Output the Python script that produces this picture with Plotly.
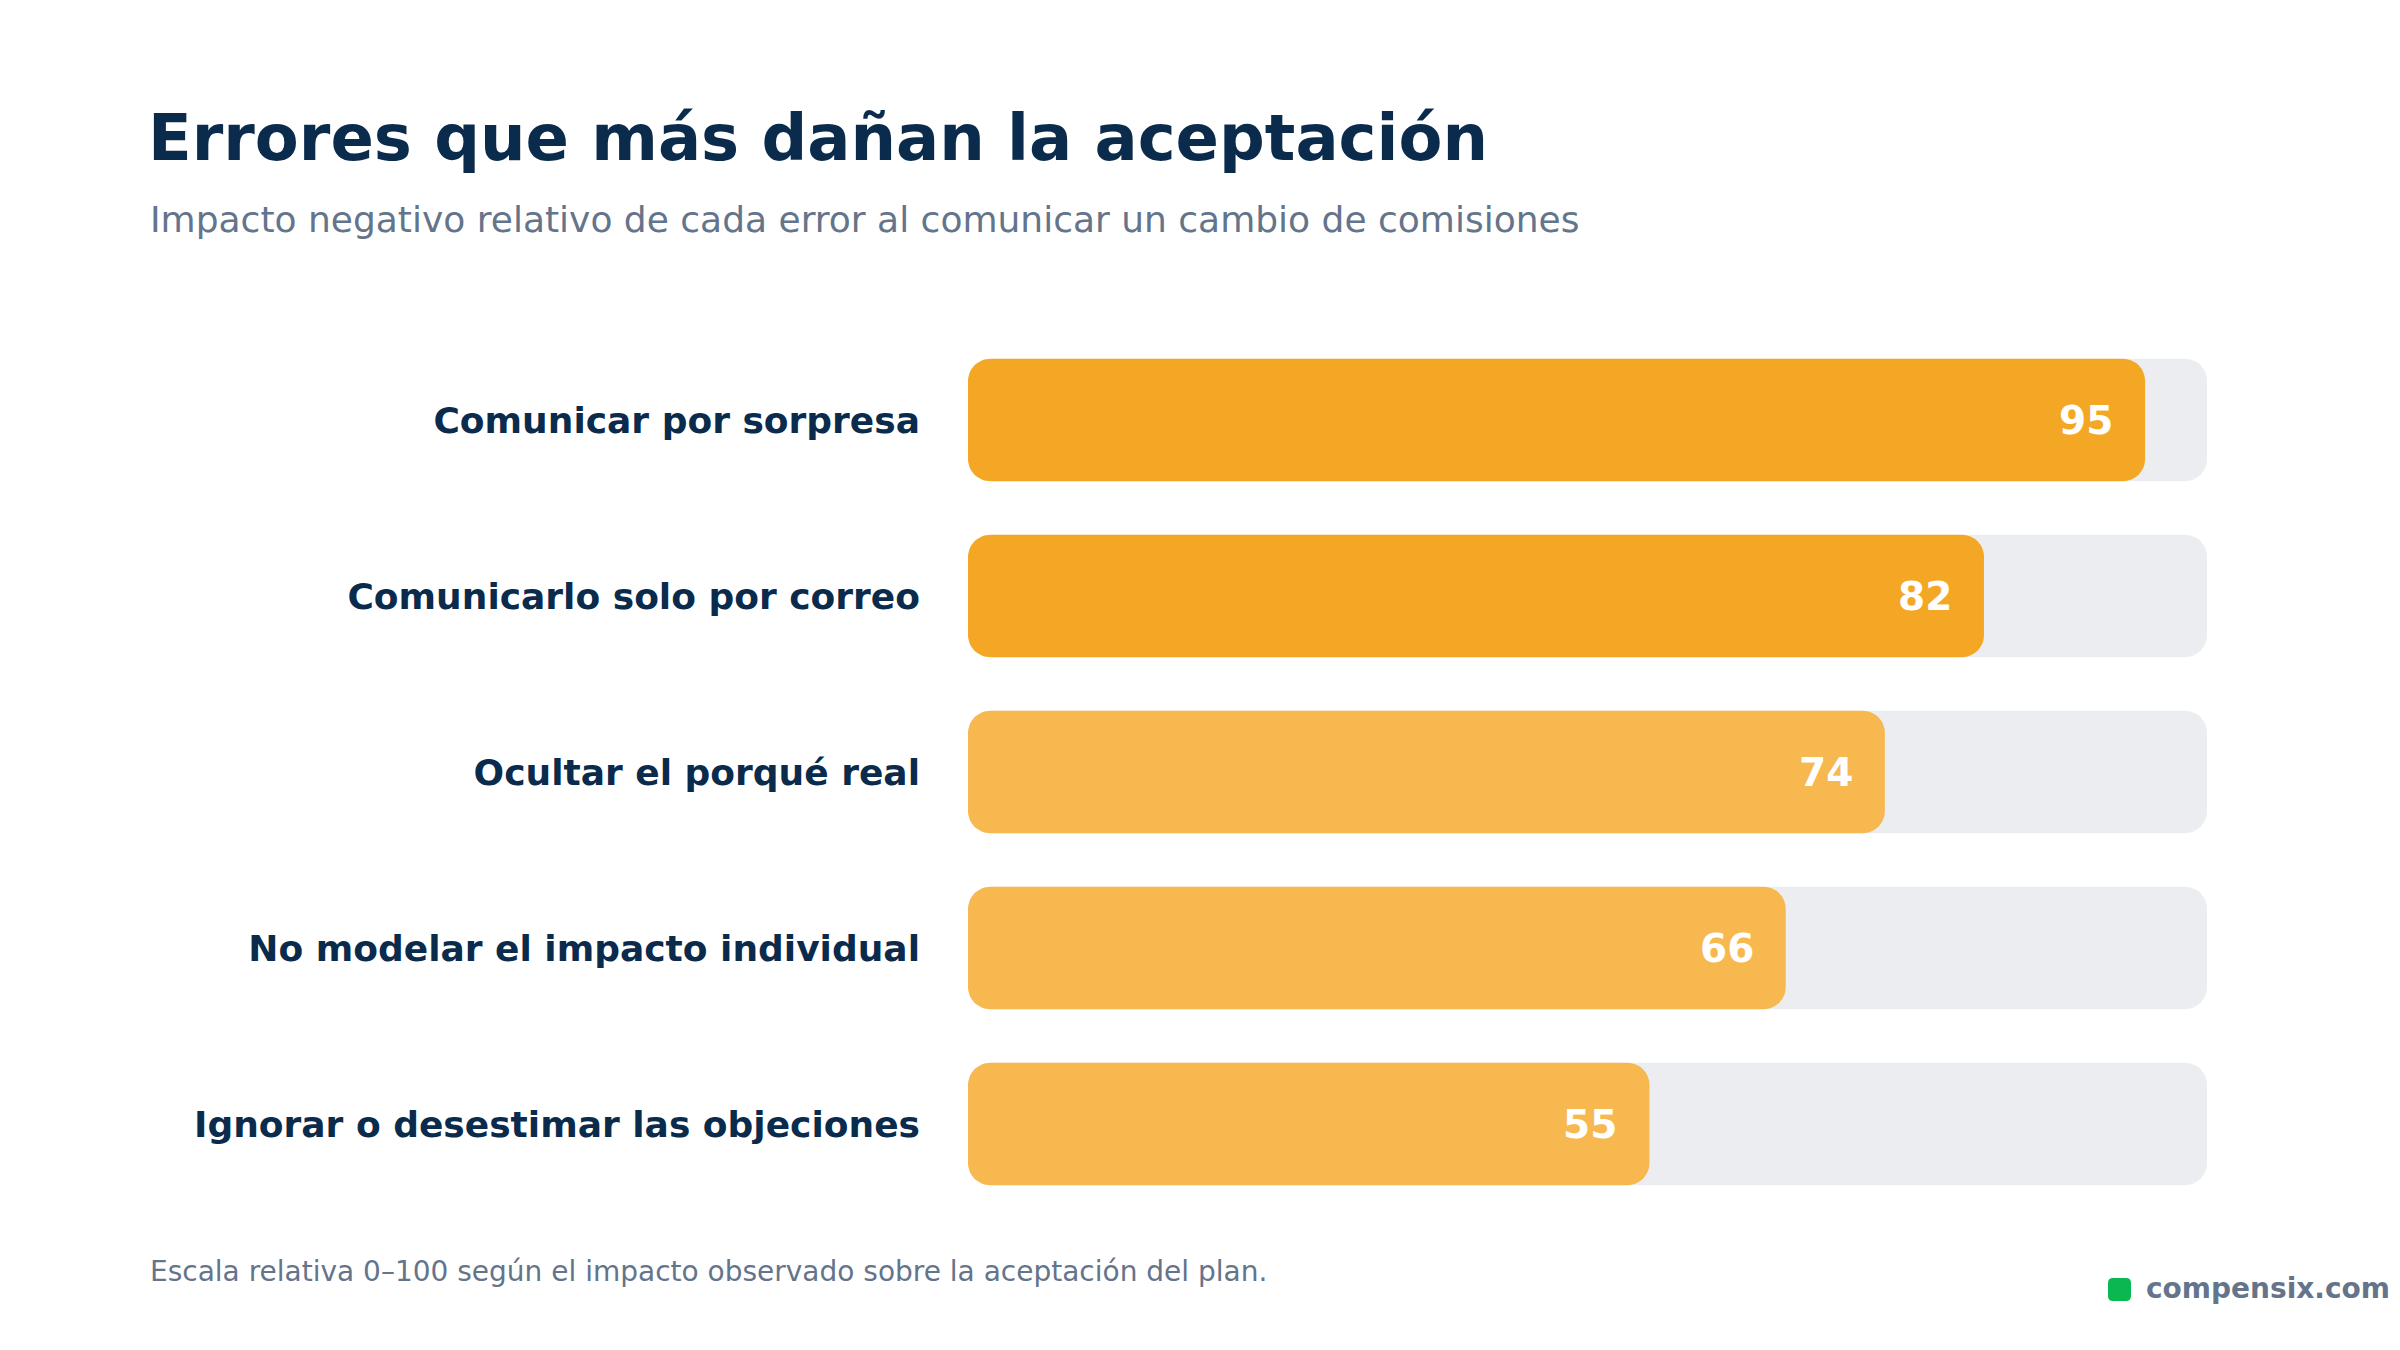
import math
import plotly.graph_objects as go

# Datos
errores = [
    "Comunicar por sorpresa",
    "Comunicarlo solo por correo",
    "Ocultar el porqué real",
    "No modelar el impacto individual",
    "Ignorar o desestimar las objeciones",
]
impacto = [95, 82, 74, 66, 55]
escala_max = [100, 100, 100, 100, 100]

titulo = "Errores que más dañan la aceptación"
subtitulo = "Impacto negativo relativo de cada error al comunicar un cambio de comisiones"
nota = "Escala relativa 0–100 según el impacto observado sobre la aceptación del plan."
marca = "compensix.com"

# Colores
AZUL = "#0b2b4c"
GRIS = "#64748b"
NARANJA = "#f4a724"
NARANJA_CLARO = "#f7b84f"
PISTA = "#ecedf0"
VERDE = "#0bb850"

colores = [NARANJA if v >= 80 else NARANJA_CLARO for v in impacto]

# Área del gráfico en píxeles (para pasar a coordenadas "paper")
L, R, T, B = 960, 2199, 324, 1204
ANCHO = 0.695   # grosor de barra (fracción de categoría)
RADIO = 22      # radio de las esquinas, px


def px_x(p):
    return (p - L) / (R - L)


def px_y(p):
    return (B - p) / (B - T)


fig = go.Figure()

# Pista gris 0-100 (eje x) y barras de impacto encima (eje x2 superpuesto),
# así plotly redondea el final de las dos
fig.add_trace(go.Bar(
    x=escala_max, y=errores, orientation="h", width=ANCHO, xaxis="x",
    marker=dict(color=PISTA, line=dict(width=0)),
    hoverinfo="skip", showlegend=False,
))
fig.add_trace(go.Bar(
    x=impacto, y=errores, orientation="h", width=ANCHO, xaxis="x2",
    marker=dict(color=colores, line=dict(width=0)),
    hovertemplate="%{y}: %{x}<extra></extra>", showlegend=False,
))

# Valores dentro de las barras
for e, v in zip(errores, impacto):
    fig.add_annotation(
        x=v, y=e, xref="x2", yref="y", text=f"<b>{v}</b>",
        xanchor="right", yanchor="middle", xshift=-30, showarrow=False,
        font=dict(family="DejaVu Sans", size=39, color="white"),
    )

# El inicio de las barras no se redondea: se tapan las esquinas izquierdas
# con máscaras blancas en una capa superior (ejes x3/y2 en píxeles)
fila = (B - T) / len(errores)
mx, my = [], []
for i in range(len(errores)):
    for borde, d in ((T + (i + 0.5 - ANCHO / 2) * fila, 1),
                     (T + (i + 0.5 + ANCHO / 2) * fila, -1)):
        cx, cy = L + RADIO, borde + RADIO * d
        mx += [L - 3, L + RADIO]
        my += [borde - 3 * d, borde - 3 * d]
        for n in range(13):
            a = math.pi / 2 * n / 12
            mx.append(cx - RADIO * math.sin(a))
            my.append(cy - RADIO * d * math.cos(a))
        mx += [L - 3, None]
        my += [borde + RADIO * d, None]

fig.add_trace(go.Scatter(
    x=mx, y=my, xaxis="x3", yaxis="y2", mode="lines", fill="toself",
    fillcolor="white", line=dict(width=0, color="white"),
    hoverinfo="skip", showlegend=False, cliponaxis=False,
))

# Subtítulo, nota y marca
fig.add_annotation(
    x=px_x(140), y=px_y(211), xref="paper", yref="paper", text=subtitulo,
    xanchor="left", yanchor="middle", showarrow=False,
    font=dict(family="DejaVu Sans", size=36, color=GRIS),
)
fig.add_annotation(
    x=px_x(140), y=px_y(1263), xref="paper", yref="paper", text=nota,
    xanchor="left", yanchor="middle", showarrow=False,
    font=dict(family="DejaVu Sans", size=28, color=GRIS),
)
fig.add_annotation(
    x=px_x(2136), y=px_y(1280), xref="paper", yref="paper", text=f"<b>{marca}</b>",
    xanchor="left", yanchor="middle", showarrow=False,
    font=dict(family="DejaVu Sans", size=28, color=GRIS),
)

# Cuadrado verde redondeado del logo
x0, x1, y0, y1, rr = 2100, 2123, 1270, 1293, 5
puntos = [
    f"M {px_x(x0 + rr)},{px_y(y0)}",
    f"L {px_x(x1 - rr)},{px_y(y0)}",
    f"Q {px_x(x1)},{px_y(y0)} {px_x(x1)},{px_y(y0 + rr)}",
    f"L {px_x(x1)},{px_y(y1 - rr)}",
    f"Q {px_x(x1)},{px_y(y1)} {px_x(x1 - rr)},{px_y(y1)}",
    f"L {px_x(x0 + rr)},{px_y(y1)}",
    f"Q {px_x(x0)},{px_y(y1)} {px_x(x0)},{px_y(y1 - rr)}",
    f"L {px_x(x0)},{px_y(y0 + rr)}",
    f"Q {px_x(x0)},{px_y(y0)} {px_x(x0 + rr)},{px_y(y0)} Z",
]
fig.add_shape(
    type="path", xref="paper", yref="paper", path=" ".join(puntos),
    fillcolor=VERDE, line=dict(width=0),
)

fig.update_layout(
    width=2400, height=1350,
    paper_bgcolor="white", plot_bgcolor="white",
    barmode="overlay", barcornerradius=RADIO,
    margin=dict(l=L, r=2400 - R, t=T, b=1350 - B),
    title=dict(
        text=f"<b>{titulo}</b>", x=140 / 2400, xref="container", xanchor="left",
        y=1 - 130 / 1350, yref="container", yanchor="middle",
        font=dict(family="DejaVu Sans", size=64, color=AZUL),
    ),
    xaxis=dict(range=[0, 100], visible=False, fixedrange=True),
    xaxis2=dict(range=[0, 100], visible=False, fixedrange=True, overlaying="x"),
    xaxis3=dict(range=[L, R], visible=False, fixedrange=True, overlaying="x"),
    yaxis=dict(
        range=[len(errores) - 0.5, -0.5], showgrid=False, zeroline=False,
        showline=False, ticks="", ticklabelstandoff=47, fixedrange=True,
        tickfont=dict(family="DejaVu Sans", size=36, color=AZUL, weight="bold"),
    ),
    yaxis2=dict(range=[B, T], visible=False, fixedrange=True, overlaying="y"),
    font=dict(family="DejaVu Sans"),
)

fig.write_html("out.html")
